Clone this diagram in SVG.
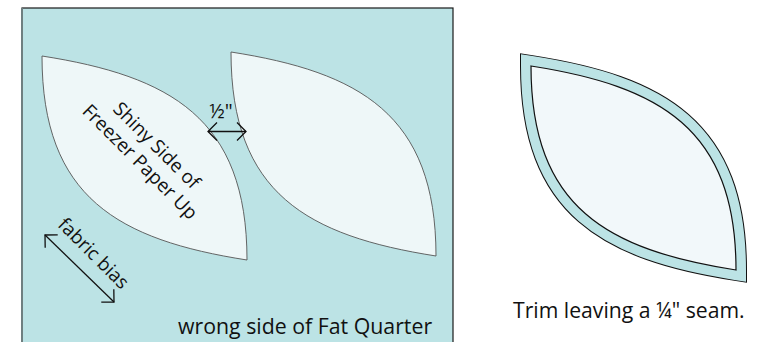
<svg xmlns="http://www.w3.org/2000/svg" xmlns:xlink="http://www.w3.org/1999/xlink" width="760" height="342" viewBox="0 0 760 342">
<style>
  .lbl{font-family:"Open Sans","Noto Sans","Liberation Sans",sans-serif;fill:#111}
  .leaf{fill:#eef7f8;stroke:#555;stroke-width:0.9}
  .arr{fill:none;stroke:#111;stroke-width:1.3}
</style>
<defs>
  <path id="leafShape" d="M0,0 C128,20 205,62 205,204 C77,184 0,142 0,0 Z"/>
  <marker id="head" markerUnits="userSpaceOnUse" markerWidth="24" markerHeight="24" viewBox="-12 -12 24 24" refX="0" refY="0" orient="auto-start-reverse">
    <path d="M-9,-9 L0,0 L-9,9" fill="none" stroke="#111" stroke-width="1.3"/>
  </marker>
</defs>
<rect width="760" height="342" fill="#ffffff"/>
<g id="fat-quarter">
  <rect x="22" y="8" width="431" height="340" fill="#bce3e5" stroke="#1a1a1a" stroke-width="1.2"/>
  <line x1="22" y1="8" x2="22" y2="342" stroke="#6f7f80" stroke-width="2"/>
  <text class="lbl" x="178" y="334" font-size="21.3">wrong side of Fat Quarter</text>
</g>
<g id="leaf-left">
  <use xlink:href="#leafShape" class="leaf" transform="translate(42,56)"/>
  <text class="lbl" font-size="19" text-anchor="middle" transform="translate(152,150) rotate(45)">Shiny Side of</text>
  <text class="lbl" font-size="19" text-anchor="middle" transform="translate(135.5,166.5) rotate(45)">Freezer Paper Up</text>
</g>
<g id="leaf-right">
  <use xlink:href="#leafShape" class="leaf" transform="translate(231,52)"/>
</g>
<g id="leaf-trimmed">
  <use xlink:href="#leafShape" transform="translate(531,66)" fill="#bce3e5" stroke="#111" stroke-width="22" stroke-linejoin="miter"/>
  <use xlink:href="#leafShape" transform="translate(531,66)" fill="#bce3e5" stroke="#bce3e5" stroke-width="20" stroke-linejoin="miter"/>
  <use xlink:href="#leafShape" transform="translate(531,66)" fill="#f2f8fa" stroke="#111" stroke-width="1.2"/>
  <text class="lbl" x="513" y="318" font-size="21.2">Trim leaving a ¼" seam.</text>
</g>
<g id="connectors">
  <line class="arr" x1="208" y1="131.5" x2="246" y2="131.5" marker-start="url(#head)" marker-end="url(#head)"/>
  <text class="lbl" x="221" y="118" font-size="20" text-anchor="middle">½"</text>
  <line class="arr" x1="45" y1="235" x2="114" y2="302" marker-start="url(#head)" marker-end="url(#head)"/>
  <text class="lbl" font-size="19" text-anchor="middle" transform="translate(89,258) rotate(45)">fabric bias</text>
</g>
</svg>
